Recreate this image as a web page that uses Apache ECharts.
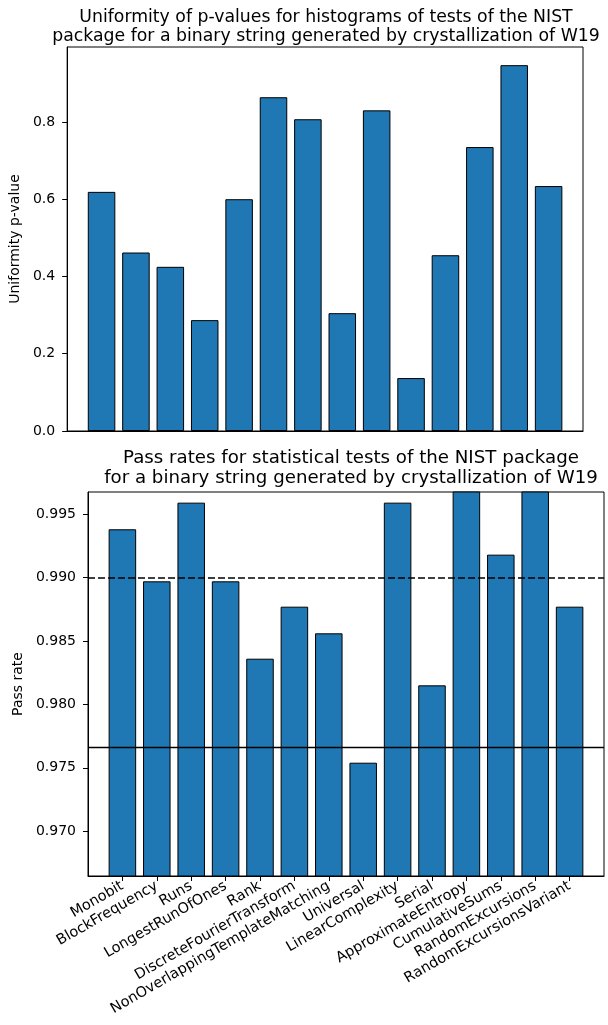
<!DOCTYPE html>
<html><head><meta charset="utf-8">
<script src="https://cdn.jsdelivr.net/npm/echarts@6/dist/echarts.min.js"></script>
<style>html,body{margin:0;padding:0;background:#fff}#c{width:608px;height:1025px}</style>
</head><body><div id="c"></div>
<script>
const categories = ['Monobit','BlockFrequency','Runs','LongestRunOfOnes','Rank','DiscreteFourierTransform','NonOverlappingTemplateMatching','Universal','LinearComplexity','Serial','ApproximateEntropy','CumulativeSums','RandomExcursions','RandomExcursionsVariant'];
const uniformity = [0.619,0.462,0.425,0.287,0.600,0.864,0.807,0.305,0.830,0.137,0.455,0.735,0.947,0.634];
const passRate = [0.9938,0.9897,0.9959,0.9897,0.9836,0.9877,0.9856,0.9754,0.9959,0.9815,1.0,0.9918,1.0,0.9877];
const passThreshold = 0.99;
const minPassRate = 0.97665;
const uniformityTicks = [0,0.2,0.4,0.6,0.8];
const passTicks = [0.970,0.975,0.980,0.985,0.990,0.995];

const FONT = 'DejaVu Sans';
const gw = 516, gh = 384;
const barW = gw / 15 * 0.8;
const idx = categories.map((c,i)=>i);

const chart = echarts.init(document.getElementById('c'), null, {renderer:'canvas'});
const axisLineStyle = {show:true, onZero:false, lineStyle:{color:'#000', width:1}};
chart.setOption({
  animation:false,
  textStyle:{fontFamily:FONT},
  title:[
    {text:'Uniformity of p-values for histograms of tests of the NIST\npackage for a binary string generated by crystallization of W19',
     left:321, top:3, textAlign:'center',
     textStyle:{fontFamily:FONT, fontSize:17.3, fontWeight:'normal', color:'#000', lineHeight:19}},
    {text:'Pass rates for statistical tests of the NIST package\nfor a binary string generated by crystallization of W19',
     left:346, top:443, textAlign:'center',
     textStyle:{fontFamily:FONT, fontSize:18.2, fontWeight:'normal', color:'#000', lineHeight:20}}
  ],
  grid:[
    {left:67, top:47, width:gw, height:gh, show:true, borderColor:'#000', borderWidth:1},
    {left:88, top:492, width:gw, height:gh, show:true, borderColor:'#000', borderWidth:1}
  ],
  xAxis:[
    {type:'value', gridIndex:0, min:-1, max:14, interval:1, splitLine:{show:false},
     axisLine:axisLineStyle, axisTick:{show:false}, axisLabel:{show:false}},
    {type:'value', gridIndex:1, min:-1, max:14, interval:1, splitLine:{show:false},
     axisLine:axisLineStyle,
     axisTick:{show:true, customValues:idx, length:5, lineStyle:{color:'#000'}},
     axisLabel:{customValues:idx, formatter:v=>categories[Math.round(v)], rotate:30, margin:9,
       fontSize:14.5, fontFamily:FONT, color:'#000'}}
  ],
  yAxis:[
    {type:'value', gridIndex:0, min:0, max:0.994, splitLine:{show:false},
     name:'Uniformity p-value', nameLocation:'middle', nameGap:39,
     nameTextStyle:{fontFamily:FONT, fontSize:14, color:'#000'},
     axisLine:axisLineStyle,
     axisTick:{show:true, customValues:uniformityTicks, length:5, lineStyle:{color:'#000'}},
     axisLabel:{customValues:uniformityTicks, formatter:v=>v.toFixed(1), margin:12,
       fontSize:14, fontFamily:FONT, color:'#000'}},
    {type:'value', gridIndex:1, min:0.96647, max:0.99674, splitLine:{show:false},
     name:'Pass rate', nameLocation:'middle', nameGap:57,
     nameTextStyle:{fontFamily:FONT, fontSize:14, color:'#000'},
     axisLine:axisLineStyle,
     axisTick:{show:true, customValues:passTicks, length:5, lineStyle:{color:'#000'}},
     axisLabel:{customValues:passTicks, formatter:v=>v.toFixed(3), margin:12,
       fontSize:14, fontFamily:FONT, color:'#000'}}
  ],
  series:[
    {type:'bar', xAxisIndex:0, yAxisIndex:0, barWidth:barW, clip:true,
     data:uniformity.map((v,i)=>[i,v]),
     itemStyle:{color:'#1f77b4', borderColor:'#000', borderWidth:1}},
    {type:'bar', xAxisIndex:1, yAxisIndex:1, barWidth:barW, clip:true,
     data:passRate.map((v,i)=>[i,v]),
     itemStyle:{color:'#1f77b4', borderColor:'#000', borderWidth:1},
     markLine:{silent:true, precision:6, symbol:['none','none'], label:{show:false},
       data:[
         {yAxis:passThreshold, lineStyle:{type:[7,3], color:'#000', width:1.6}},
         {yAxis:minPassRate, lineStyle:{type:'solid', color:'#000', width:1.3}}
       ]}}
  ]
});
</script></body></html>
